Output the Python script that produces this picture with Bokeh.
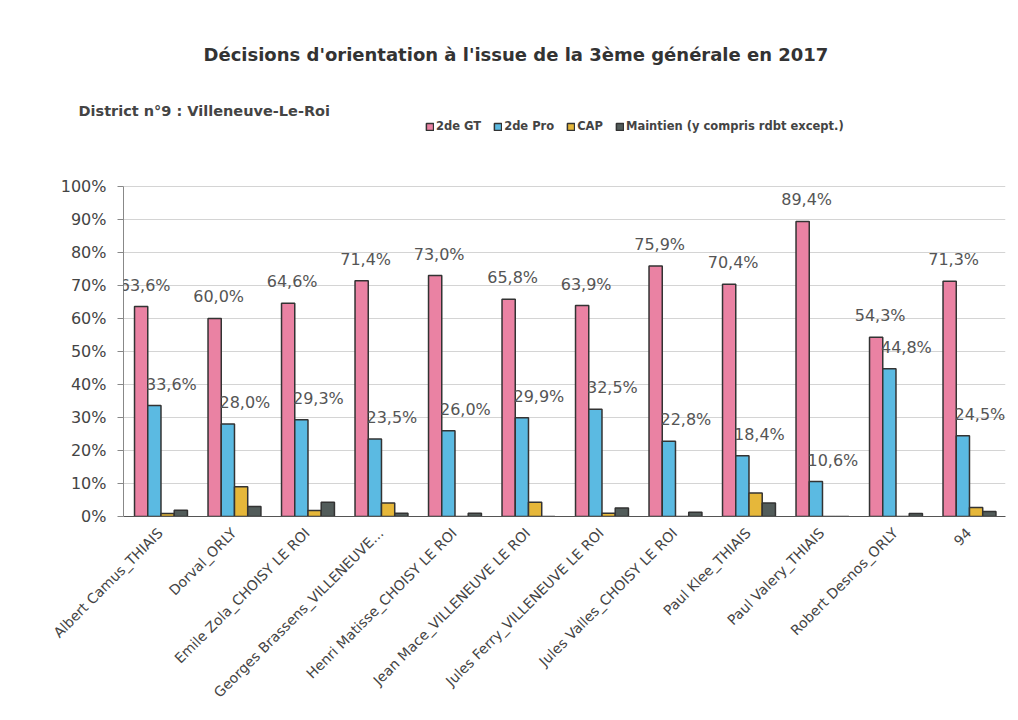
from bokeh.plotting import figure
from bokeh.models import (FactorRange, Range1d, ColumnDataSource, LabelSet, Title,
                          Legend, LegendItem, FixedTicker)
from bokeh.core.properties import value
from bokeh.transform import dodge
from bokeh.embed import file_html
from bokeh.resources import INLINE
from math import pi

schools = ["Albert Camus_THIAIS", "Dorval_ORLY", "Emile Zola_CHOISY LE ROI",
           "Georges Brassens_VILLENEUVE...", "Henri Matisse_CHOISY LE ROI",
           "Jean Mace_VILLENEUVE LE ROI", "Jules Ferry_VILLENEUVE LE ROI",
           "Jules Valles_CHOISY LE ROI", "Paul Klee_THIAIS", "Paul Valery_THIAIS",
           "Robert Desnos_ORLY", "94"]
gt = [63.6, 60.0, 64.6, 71.4, 73.0, 65.8, 63.9, 75.9, 70.4, 89.4, 54.3, 71.3]
pro = [33.6, 28.0, 29.3, 23.5, 26.0, 29.9, 32.5, 22.8, 18.4, 10.6, 44.8, 24.5]
cap = [0.9, 9.0, 1.8, 4.1, 0.0, 4.3, 1.0, 0.0, 7.1, 0.0, 0.0, 2.7]
maint = [1.9, 3.0, 4.3, 1.0, 1.0, 0.0, 2.6, 1.3, 4.1, 0.0, 0.9, 1.5]
series = ["2de GT", "2de Pro", "CAP", "Maintien (y compris rdbt except.)"]
y_ticks = [0, 10, 20, 30, 40, 50, 60, 70, 80, 90, 100]

title_text = "Décisions d'orientation à l'issue de la 3ème générale en 2017"
subtitle_text = "District n°9 : Villeneuve-Le-Roi"

colors = ["#EA82A3", "#5BBAE2", "#E6B73A", "#525C5A"]
offsets = [-0.26, -0.08, 0.10, 0.28]
bar_w = 0.18

def fmt(v):
    return ("%.1f%%" % v).replace(".", ",")

src = ColumnDataSource(dict(
    school=schools, gt=gt, pro=pro, cap=cap, maint=maint,
    gt_lbl=[fmt(v) for v in gt], pro_lbl=[fmt(v) for v in pro]))

FONT = "DejaVu Sans"

# frame: left 123, right 1005, top 114, bottom 516 (100% sits at 186)
p = figure(width=1010, height=712, output_backend="svg", toolbar_location=None,
           x_range=FactorRange(factors=schools, range_padding=0),
           y_range=Range1d(0, 121.8),
           min_border_left=123, min_border_right=5, min_border_top=114,
           min_border_bottom=196)
p.outline_line_color = None
p.background_fill_color = "white"
p.border_fill_color = "white"

renderers = []
for key, off, col in zip(["gt", "pro", "cap", "maint"], offsets, colors):
    r = p.vbar(x=dodge("school", off, range=p.x_range), top=key, width=bar_w,
               source=src, fill_color=col, line_color="#333333", line_width=1.5)
    renderers.append(r)

p.add_layout(LabelSet(x=dodge("school", offsets[0], range=p.x_range), y="gt",
                      text="gt_lbl", source=src, y_offset=12, x_offset=4,
                      text_align="center", text_baseline="bottom",
                      text_font=value(FONT), text_font_size=value("16px"),
                      text_color="#555555"))
p.add_layout(LabelSet(x=dodge("school", offsets[1], range=p.x_range), y="pro",
                      text="pro_lbl", source=src, y_offset=12, x_offset=17,
                      text_align="center", text_baseline="bottom",
                      text_font=value(FONT), text_font_size=value("16px"),
                      text_color="#555555"))

# axes
p.yaxis.ticker = FixedTicker(ticks=y_ticks)
p.yaxis.bounds = (0, 100)
p.yaxis.major_label_overrides = {t: "%d%%" % t for t in y_ticks}
p.yaxis.major_label_text_font = FONT
p.yaxis.major_label_text_font_size = "16px"
p.yaxis.major_label_text_color = "#444444"
p.yaxis.axis_line_color = "#888888"
p.yaxis.major_tick_line_color = "#888888"
p.yaxis.major_tick_out = 6
p.yaxis.major_tick_in = 0
p.yaxis.minor_tick_line_color = None
p.yaxis.major_label_standoff = 11

p.xaxis.major_label_orientation = pi / 4
p.xaxis.major_label_text_font = FONT
p.xaxis.major_label_text_font_size = "14px"
p.xaxis.major_label_text_color = "#444444"
p.xaxis.axis_line_color = "#555555"
p.xaxis.major_tick_line_color = None
p.xaxis.major_label_standoff = 8

p.xgrid.grid_line_color = None
p.ygrid.grid_line_color = "#d4d4d4"
p.ygrid.grid_line_width = 1

# main title (outermost) and district subtitle in the panel above the frame
p.title.text = title_text
p.title.align = "left"
p.title.offset = 80
p.title.standoff = 80
p.title.text_font = FONT
p.title.text_font_size = "18px"
p.title.text_font_style = "bold"
p.title.text_color = "#333333"

sub = Title(text=subtitle_text, align="left", offset=-45, standoff=-8, text_font=FONT,
            text_font_size="14.5px", text_font_style="bold", text_color="#444444")
p.add_layout(sub, "above")

# legend inside the (extended) frame, above the 100% line
legend = Legend(items=[LegendItem(label=s, renderers=[r]) for s, r in zip(series, renderers)],
                orientation="horizontal", location=(302, 383))
legend.label_text_font = FONT
legend.label_text_font_size = "11.5px"
legend.label_text_font_style = "bold"
legend.label_text_color = "#444444"
legend.glyph_width = 9
legend.glyph_height = 9
legend.label_standoff = 2
legend.spacing = 12
legend.padding = 0
legend.margin = 0
legend.border_line_color = None
legend.background_fill_alpha = 0
legend.label_height = 12
p.add_layout(legend, "center")

open("out.html", "w").write(file_html(p, INLINE))
